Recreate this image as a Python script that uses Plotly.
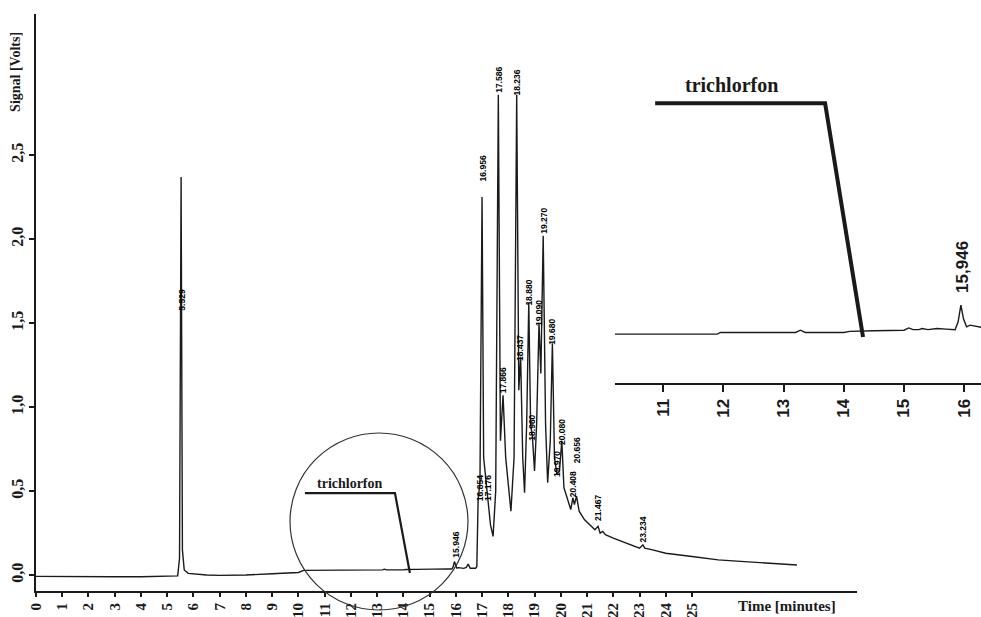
import plotly.graph_objects as go

# ---- chromatogram (time in minutes, signal in volts) ----
time_min = [0, 1, 2, 3, 4, 5, 5.40, 5.47, 5.53, 5.58, 5.65, 5.8, 6.5, 7, 8, 9, 10,
            10.2, 11.0, 11.9, 11.95, 12.5, 13.2, 13.28, 13.36, 14.0, 14.1, 14.5, 15.0,
            15.08, 15.15, 15.25, 15.3, 15.4, 15.55, 15.7, 15.85, 15.9, 15.946, 15.99,
            16.04, 16.1, 16.2, 16.3, 16.4, 16.47, 16.55, 16.75, 16.8, 16.85, 16.92,
            17.0, 17.06, 17.2, 17.32, 17.42, 17.52, 17.62, 17.7, 17.8, 17.9, 18.1,
            18.22, 18.32, 18.4, 18.47, 18.55, 18.62, 18.7, 18.78, 18.85, 18.92, 19.0,
            19.08, 19.17, 19.24, 19.33, 19.42, 19.5, 19.6, 19.68, 19.76, 19.85, 19.95,
            20.04, 20.12, 20.25, 20.38, 20.46, 20.52, 20.6, 20.7, 20.9, 21.1, 21.3,
            21.42, 21.5, 21.6, 21.7, 22.0, 22.5, 23.0, 23.13, 23.2, 23.5, 24, 25, 26,
            27, 28, 29]
signal_v = [-0.008, -0.01, -0.01, -0.01, -0.01, -0.008, -0.005, 0.10, 2.37, 0.15, 0.03,
            0.01, 0.0, -0.002, 0.0, 0.008, 0.015,
            0.028, 0.028, 0.028, 0.031, 0.031, 0.031, 0.035, 0.031, 0.031, 0.033, 0.034,
            0.035, 0.039, 0.036, 0.036, 0.038, 0.036, 0.038, 0.037, 0.036, 0.05, 0.080,
            0.055, 0.041, 0.044, 0.042, 0.040, 0.045, 0.065, 0.040, 0.040, 0.05, 0.45,
            0.55, 2.25, 0.70, 0.47, 0.30, 0.23, 0.50, 2.86, 0.80, 1.07, 0.70, 0.38,
            0.70, 2.86, 1.10, 1.30, 0.70, 0.49, 0.90, 1.62, 0.90, 0.82, 0.62,
            0.90, 1.50, 1.20, 2.02, 0.90, 0.55, 0.80, 1.38, 0.70, 0.60, 0.62,
            0.80, 0.52, 0.45, 0.39, 0.46, 0.42, 0.47, 0.38, 0.33, 0.30, 0.27,
            0.29, 0.25, 0.26, 0.24, 0.22, 0.19, 0.16, 0.18, 0.16, 0.15, 0.13, 0.11, 0.09,
            0.08, 0.07, 0.06]

# ---- peak retention-time labels ----
peak_labels = ["5.529", "15.946", "16.854", "16.956", "17.176", "17.586", "17.866",
               "18.236", "18.437", "18.880", "18.960", "19.090", "19.270", "19.680",
               "19.970", "20.080", "20.408", "20.656", "21.467", "23.234"]
peak_label_t = [5.53, 16.0, 16.9, 17.03, 17.2, 17.62, 17.8, 18.32, 18.47, 18.78, 18.92,
                19.17, 19.33, 19.68, 19.85, 20.04, 20.46, 20.6, 21.42, 23.13]
peak_label_v = [1.64, 0.18, 0.52, 2.42, 0.52, 2.95, 1.16, 2.93, 1.35, 1.68, 0.88,
                1.56, 2.11, 1.45, 0.66, 0.85, 0.54, 0.74, 0.40, 0.27]

x_tick_vals = list(range(0, 26))
y_tick_vals = [0, 0.5, 1.0, 1.5, 2.0, 2.5]
y_tick_text = ["0,0", "0,5", "1,0", "1,5", "2,0", "2,5"]
inset_tick_vals = [11, 12, 13, 14, 15, 16]
inset_peak_label = "15,946"
inset_peak_t = 15.98
analyte = "trichlorfon"

INK = "#1a1a1a"
SERIF = "Liberation Serif"
SANS = "Liberation Sans"

fig = go.Figure()
fig.add_trace(go.Scatter(x=time_min, y=signal_v, mode="lines",
                         line=dict(color=INK, width=1.4), xaxis="x", yaxis="y",
                         showlegend=False, hoverinfo="skip"))
fig.add_trace(go.Scatter(x=time_min, y=signal_v, mode="lines",
                         line=dict(color=INK, width=1.4), xaxis="x2", yaxis="y2",
                         showlegend=False, hoverinfo="skip"))

annotations = []
for lab, t, v in zip(peak_labels, peak_label_t, peak_label_v):
    annotations.append(dict(x=t, y=v, xref="x", yref="y", text=lab, showarrow=False,
                            textangle=-90, xanchor="center", yanchor="middle",
                            font=dict(family=SANS, size=8.5, color="#000", weight="bold")))

annotations += [
    dict(x=-0.022, y=0.90, xref="paper", yref="paper", text="Signal [Volts]",
         showarrow=False, textangle=-90, xanchor="center", yanchor="middle",
         font=dict(family=SERIF, size=14, color=INK, weight="bold")),
    dict(x=0.7947, y=-0.026, xref="paper", yref="paper", text="Time [minutes]",
         showarrow=False, xanchor="center", yanchor="middle",
         font=dict(family=SERIF, size=15, color=INK, weight="bold")),
    dict(x=11.97, y=0.545, xref="x", yref="y", text=analyte, showarrow=False,
         xanchor="center", yanchor="middle",
         font=dict(family=SERIF, size=14, color=INK, weight="bold")),
    dict(x=12.13, y=0.473, xref="x2", yref="y2", text=analyte, showarrow=False,
         xanchor="center", yanchor="middle",
         font=dict(family=SERIF, size=20, color=INK, weight="bold")),
    dict(x=inset_peak_t, y=0.148, xref="x2", yref="y2", text=inset_peak_label,
         showarrow=False, textangle=-90, xanchor="center", yanchor="middle",
         font=dict(family=SANS, size=17, color=INK, weight="bold")),
]

shapes = [
    dict(type="circle", xref="paper", yref="paper", x0=0.2688, x1=0.4571,
         y0=-0.0329, y1=0.2738, line=dict(color="#333", width=1.2)),
    dict(type="path", xref="x", yref="y",
         path="M 10.25 0.488 L 13.68 0.488 L 14.25 0.012",
         line=dict(color=INK, width=2.2)),
    dict(type="path", xref="x2", yref="y2",
         path="M 10.867 0.4407 L 13.69 0.4407 L 14.32 0.0229",
         line=dict(color=INK, width=4)),
]

axis_common = dict(showgrid=False, zeroline=False, showline=True, linecolor=INK,
                   linewidth=2, ticks="outside", tickcolor=INK, tickwidth=1.5)

fig.update_layout(
    width=981, height=617,
    margin=dict(l=36, r=0, t=14, b=26, autoexpand=False),
    paper_bgcolor="white", plot_bgcolor="white",
    showlegend=False,
    xaxis=dict(domain=[0, 0.8688], range=[0, 31.29], anchor="y",
               tickvals=x_tick_vals, ticktext=[str(v) for v in x_tick_vals],
               tickangle=-90, ticklen=4, automargin=False,
               tickfont=dict(family=SERIF, size=15, color=INK, weight="bold"),
               **axis_common),
    yaxis=dict(domain=[0, 1], range=[-0.095, 3.34], anchor="x",
               tickvals=y_tick_vals, ticktext=y_tick_text,
               tickangle=-90, ticklen=5, automargin=False,
               tickfont=dict(family=SERIF, size=16, color=INK, weight="bold"),
               **axis_common),
    xaxis2=dict(domain=[0.6127, 1.0], range=[10.20, 16.28], anchor="y2",
                tickvals=inset_tick_vals, ticktext=[str(v) for v in inset_tick_vals],
                tickangle=-90, ticklen=7, automargin=False,
                tickfont=dict(family=SANS, size=17, color=INK, weight="bold"),
                **axis_common),
    yaxis2=dict(domain=[0.3605, 0.920], range=[-0.0593, 0.5175], anchor="x2",
                visible=False),
    annotations=annotations,
    shapes=shapes,
)

fig.write_html("out.html", config={"displayModeBar": False})

# remove the browser's default page margin so the figure fills the window exactly
with open("out.html", "r", encoding="utf-8") as fh:
    page = fh.read()
page = page.replace("<body>", '<body style="margin:0;padding:0;overflow:hidden">', 1)
with open("out.html", "w", encoding="utf-8") as fh:
    fh.write(page)
